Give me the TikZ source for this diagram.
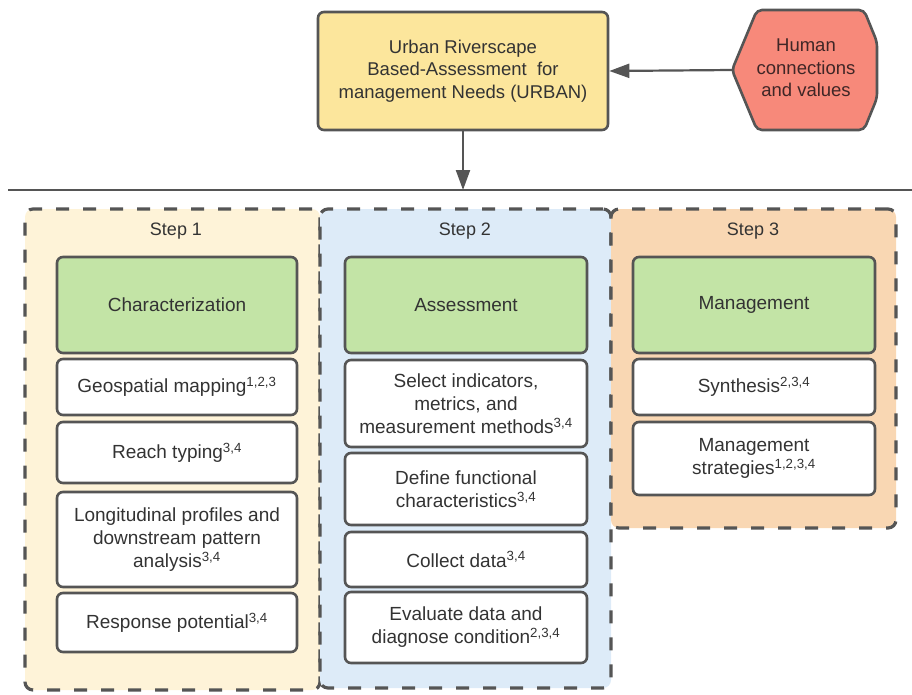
\documentclass[tikz,border=0pt]{standalone}
\usepackage{fontspec}
\setmainfont{Liberation Sans}
\usetikzlibrary{arrows.meta}
\definecolor{edgegray}{HTML}{555555}
\definecolor{txtgray}{HTML}{333333}
\definecolor{urbanfill}{HTML}{FCE69C}
\definecolor{humanfill}{HTML}{F7897A}
\definecolor{humantxt}{HTML}{3F2626}
\definecolor{stepAfill}{HTML}{FEF3D8}
\definecolor{stepBfill}{HTML}{DDEBF8}
\definecolor{stepCfill}{HTML}{F9D7B3}
\definecolor{greenfill}{HTML}{C3E4A6}
\begin{document}
\begin{tikzpicture}[x=1pt,y=-1pt,
  every node/.style={text=txtgray},
  stepframe/.style={draw=edgegray, line width=3.2pt, dash pattern=on 13pt off 14pt, rounded corners=8pt, inner sep=0pt},
  headbox/.style={draw=edgegray, line width=2.6pt, rounded corners=6pt, fill=greenfill, inner sep=0pt, minimum width=#1, font=\fontsize{19}{23}\selectfont},
  itembox/.style={draw=edgegray, line width=2.6pt, rounded corners=6pt, fill=white, inner sep=0pt, align=center, minimum width=#1, font=\fontsize{19}{23}\selectfont},
  steplabel/.style={font=\fontsize{18}{22}\selectfont},
  conn/.style={draw=edgegray, line width=2.2pt, -{Triangle[length=20pt,width=14pt]}}
]
\useasboundingbox (0,0) rectangle (912,694);

% top
\node[draw=edgegray, line width=2.6pt, rounded corners=6pt, fill=urbanfill, minimum width=290pt, minimum height=118pt, inner sep=0pt, align=center, font=\fontsize{18.5}{22.5}\selectfont] (urban) at (463,71) {Urban Riverscape\\Based-Assessment \ for\\management Needs (URBAN)};

\draw[edgegray, line width=2.6pt, fill=humanfill, rounded corners=5pt]
  (732,70) -- (757,10) -- (864,10) -- (877,42) -- (877,98) -- (864,130) -- (757,130) -- cycle;
\coordinate (hl) at (732,70);
\node[align=center, text=humantxt, font=\fontsize{18.5}{22.5}\selectfont] (human) at (806,68) {Human\\connections\\and values};

\draw[conn] (hl) -- (urban.east);

\coordinate (lineL) at (8,190);
\coordinate (lineR) at (912,190);
\draw[edgegray, line width=2pt] (lineL) -- (lineR);
\draw[conn] (urban.south) -- (urban.south |- lineL);

% step frames
\node[stepframe, fill=stepAfill, minimum width=295pt, minimum height=481pt] (s1) at (172.5,449.5) {};
\node[stepframe, fill=stepBfill, minimum width=291pt, minimum height=479pt] (s2) at (465.5,448.5) {};
\node[stepframe, fill=stepCfill, minimum width=285pt, minimum height=319pt] (s3) at (753.5,368.5) {};

\node[steplabel] (l1) at (176,231) {Step 1};
\node[steplabel] (l2) at (465,231) {Step 2};
\node[steplabel] (l3) at (753,231) {Step 3};

% step 1
\node[headbox=240pt, minimum height=96pt] (c1) at (177,305) {Characterization};
\node[itembox=240pt, minimum height=56pt] (a1) at (177,387) {Geospatial mapping\textsuperscript{1,2,3}};
\node[itembox=240pt, minimum height=61pt] (a2) at (177,452.5) {Reach typing\textsuperscript{3,4}};
\node[itembox=240pt, minimum height=95pt] (a3) at (177,539.5) {Longitudinal profiles and\\downstream pattern\\analysis\textsuperscript{3,4}};
\node[itembox=240pt, minimum height=59pt] (a4) at (177,622.5) {Response potential\textsuperscript{3,4}};

% step 2
\node[headbox=242pt, minimum height=96pt] (c2) at (466,305) {Assessment};
\node[itembox=242pt, minimum height=87pt] (b1) at (466,403.5) {Select indicators,\\metrics, and\\measurement methods\textsuperscript{3,4}};
\node[itembox=242pt, minimum height=72pt] (b2) at (466,489) {Define functional\\characteristics\textsuperscript{3,4}};
\node[itembox=242pt, minimum height=55pt] (b3) at (466,559.5) {Collect data\textsuperscript{3,4}};
\node[itembox=242pt, minimum height=71pt] (b4) at (466,627.5) {Evaluate data and\\diagnose condition\textsuperscript{2,3,4}};

% step 3
\node[headbox=242pt, minimum height=96pt] (c3) at (754,305) {Management};
\node[itembox=242pt, minimum height=56pt] (d1) at (754,387) {Synthesis\textsuperscript{2,3,4}};
\node[itembox=242pt, minimum height=73pt] (d2) at (754,458.5) {Management\\strategies\textsuperscript{1,2,3,4}};
\end{tikzpicture}
\end{document}
